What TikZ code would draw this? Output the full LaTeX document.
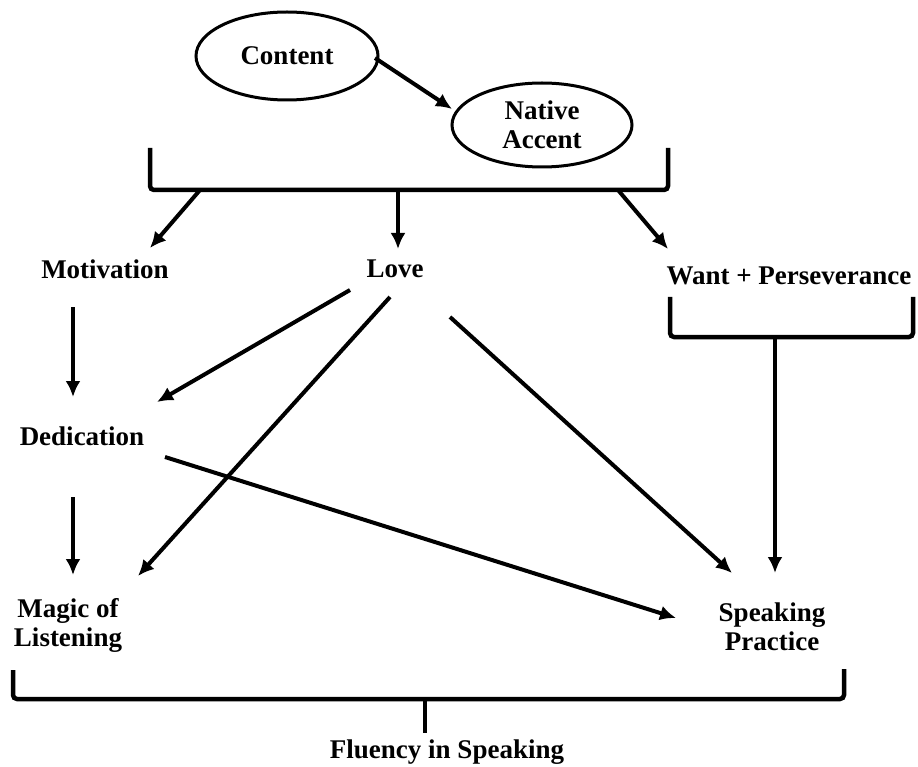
\documentclass[tikz,border=0pt]{standalone}
\usepackage{fontspec}
\setmainfont{Liberation Serif}
\usepackage{tikz}
\tikzset{>=latex}
\usetikzlibrary{arrows.meta}
\usetikzlibrary{shapes.geometric}
\usetikzlibrary{calc}
\tikzset{
    lbl/.style = {font = \fontsize{27}{29}\selectfont\bfseries, inner sep = 1pt, align = center},
    oval/.style = {lbl, ellipse, draw, line width = 3pt, minimum width = 182pt, minimum height = 88pt},
    arr/.style = {line width = 4pt, -{Latex[length = 16pt, width = 15pt]}},
    brk/.style = {line width = 4.5pt, rounded corners = 4pt}
}

\begin{document}
\begin{tikzpicture}[x = 1pt, y = -1pt]
            \useasboundingbox (0, 0) rectangle (918, 767);
            \node[oval] (content) at (287, 56) {Content};
            \node[oval, minimum width = 180pt, minimum height = 84pt] (native) at (542, 125) {Native\\Accent};
            \draw[arr] ($(content) + (88, 2)$) -- ($(native) + (-90, -16)$);
            \draw[brk] (150, 148) -- (150, 190) -- (668, 190) -- (668, 148);
            \coordinate (top-l) at (200, 190);
            \coordinate (top-m) at (398, 190);
            \coordinate (top-r) at (618, 190);
            \node[lbl] (motivation) at (105, 269) {Motivation};
            \node[lbl] (love) at (395, 269) {Love};
            \node[lbl] (want) at (789, 276) {Want + Perseverance};
            \node[lbl] (dedication) at (82, 436) {Dedication};
            \node[lbl] (magic) at (68, 625) {Magic of\\Listening};
            \node[lbl] (speaking) at (772, 627) {Speaking\\Practice};
            \node[lbl] (fluency) at (447, 752) {Fluency in Speaking};
            \draw[arr] (top-l) -- ($(motivation) + (45, -21)$);
            \draw[arr] (top-m) -- ($(love) + (3, -20)$);
            \draw[arr] (top-r) -- ($(want) + (-121, -27)$);
            \draw[arr] ($(motivation) + (-32, 38)$) -- ($(dedication) + (-9, -39)$);
            \draw[arr] ($(love) + (-45, 21)$) -- ($(dedication) + (75, -34)$);
            \draw[arr] ($(love) + (-5, 28)$) -- ($(magic) + (70, -49)$);
            \draw[arr] ($(love) + (55, 48)$) -- ($(speaking) + (-40, -54)$);
            \draw[arr] ($(dedication) + (83, 21)$) -- ($(speaking) + (-96, -9)$);
            \draw[arr] ($(dedication) + (-9, 61)$) -- ($(magic) + (5, -50)$);
            \draw[brk] (670, 297) -- (670, 337) -- (913, 337) -- (913, 297);
            \coordinate (want-s) at (775, 337);
            \draw[arr] (want-s) -- ($(speaking) + (3, -54)$);
            \draw[brk] (13, 670) -- (13, 699) -- (844, 699) -- (844, 669);
            \coordinate (flu-s) at (425, 699);
            \draw[line width = 4.5pt] (flu-s) -- ($(fluency) + (-22, -19)$);
            \fill (416, 699) .. controls (425, 699) .. (425, 709) .. controls (425, 699) .. (434, 699) -- cycle;
        \end{tikzpicture}
\end{document}
